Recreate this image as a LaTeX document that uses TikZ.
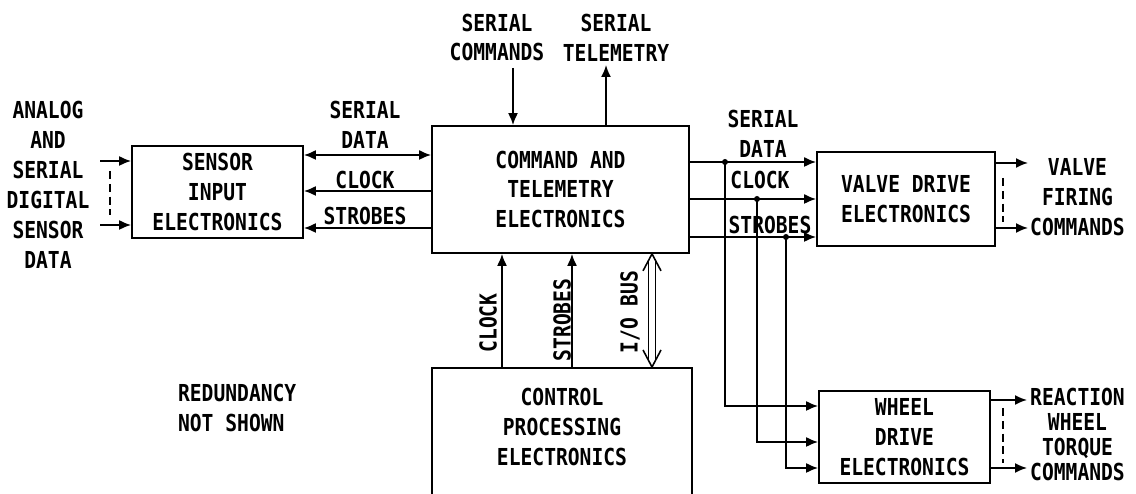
\documentclass[tikz,border=0pt]{standalone}
\usepackage{fontspec}
\setmonofont{DejaVu Sans Mono}[FakeStretch=0.84]
\usetikzlibrary{arrows.meta,positioning,calc}
\newcommand{\lettering}{\ttfamily\bfseries\fontsize{13.3pt}{17pt}\selectfont}
\newcommand{\tightlettering}{\ttfamily\bfseries\fontsize{13.3pt}{14.2pt}\selectfont}

\begin{document}
\begin{tikzpicture}[
    box/.style={draw,line width=1pt,align=center,font=\lettering,inner sep=0pt},
    lbl/.style={align=center,font=\lettering,inner sep=1pt},
    sig/.style={-{Latex[length=2.4mm,width=2mm]},line width=1pt},
    dsig/.style={{Latex[length=2.4mm,width=2mm]}-{Latex[length=2.4mm,width=2mm]},line width=1pt},
    bus/.style={line width=0.9pt,line join=miter},
    redund/.style={line width=0.9pt,dash pattern=on 4.5pt off 2.8pt}
  ]
  \useasboundingbox (0,0) rectangle (22.72,9.88);
  \clip (0,0) rectangle (22.72,9.88);

  \node[box,minimum width=3.42cm,minimum height=1.84cm] (sie) at (4.35,6.04)
    {SENSOR\\INPUT\\ELECTRONICS};
  \node[box,minimum width=5.14cm,minimum height=2.54cm] (cte) at (11.21,6.09)
    {COMMAND AND\\TELEMETRY\\ELECTRONICS};
  \node[box,minimum width=3.56cm,minimum height=1.88cm] (vde) at (18.12,5.90)
    {VALVE DRIVE\\ELECTRONICS};
  \node[box,minimum width=3.42cm,minimum height=1.84cm] (wde) at (18.09,1.14)
    {WHEEL\\DRIVE\\ELECTRONICS};
  \node[box,anchor=north,minimum width=5.2cm,minimum height=3.2cm] (cpe) at (11.24,2.54) {};
  \node[lbl] (cpt) at (11.24,1.34) {CONTROL\\PROCESSING\\ELECTRONICS};

  \node[lbl] (sdat) at (0.96,6.18) {ANALOG\\AND\\SERIAL\\DIGITAL\\SENSOR\\DATA};
  \coordinate (in1) at (2.0,6.66);
  \coordinate (in2) at (2.0,5.38);
  \draw[sig] (in1) -- (sie.west |- in1);
  \draw[sig] (in2) -- (sie.west |- in2);
  \draw[redund] ([xshift=2mm,yshift=-2mm]in1) -- ([xshift=2mm,yshift=2mm]in2);

  \coordinate (lsd) at (0,6.78);
  \coordinate (lck) at (0,6.06);
  \coordinate (lst) at (0,5.32);
  \draw[dsig] (sie.east |- lsd) -- (cte.west |- lsd);
  \draw[sig] (cte.west |- lck) -- (sie.east |- lck);
  \draw[sig] (cte.west |- lst) -- (sie.east |- lst);
  \node[lbl] (lsdl) at (7.3,7.38) {SERIAL\\DATA};
  \node[lbl] (lckl) at (7.3,6.28) {CLOCK};
  \node[lbl] (lstl) at (7.3,5.56) {STROBES};

  \coordinate (cmdin) at (10.26,8.52);
  \coordinate (telout) at (12.12,8.58);
  \draw[sig] (cmdin) -- (cte.north -| cmdin);
  \draw[sig] (cte.north -| telout) -- (telout);
  \node[lbl] (cmdl) at (9.94,9.13) {SERIAL\\COMMANDS};
  \node[lbl] (tell) at (12.32,9.13) {SERIAL\\TELEMETRY};

  \coordinate (rsd) at (14.5,6.64);
  \coordinate (rck) at (15.14,5.90);
  \coordinate (rst) at (15.72,5.14);
  \coordinate (wsd) at (0,1.76);
  \coordinate (wck) at (0,1.04);
  \coordinate (wst) at (0,0.52);
  \foreach \s/\w in {rsd/wsd,rck/wck,rst/wst} {
    \draw[sig] (cte.east |- \s) -- (vde.west |- \s);
    \draw[sig] (\s) |- (wde.west |- \w);
    \fill (\s) circle (0.06);
  }
  \node[lbl] (rsdl) at (15.26,7.21) {SERIAL\\DATA};
  \node[lbl] (rckl) at (15.2,6.28) {CLOCK};
  \node[lbl] (rstl) at (15.4,5.38) {STROBES};

  \coordinate (vo1) at (20.56,6.62);
  \coordinate (vo2) at (20.56,5.32);
  \draw[sig] (vde.east |- vo1) -- (vo1);
  \draw[sig] (vde.east |- vo2) -- (vo2);
  \draw[redund] (20.06,6.32) -- (20.06,5.44);
  \node[lbl] (vfc) at (21.55,5.94) {VALVE\\FIRING\\COMMANDS};

  \coordinate (wo1) at (20.54,1.88);
  \coordinate (wo2) at (20.54,0.52);
  \draw[sig] (wde.east |- wo1) -- (wo1);
  \draw[sig] (wde.east |- wo2) -- (wo2);
  \draw[redund] (20.06,1.72) -- (20.06,0.62);
  \node[lbl,font=\tightlettering] (rwtc) at (21.55,1.19)
    {REACTION\\WHEEL\\TORQUE\\COMMANDS};

  \coordinate (bck) at (10.04,0);
  \coordinate (bst) at (11.44,0);
  \coordinate (bio) at (13.04,0);
  \draw[sig] (cpe.north -| bck) -- (cte.south -| bck);
  \draw[sig] (cpe.north -| bst) -- (cte.south -| bst);
  \coordinate (iob) at (cpe.north -| bio);
  \coordinate (iot) at (cte.south -| bio);
  \draw[bus] ([shift={(-0.07,0.13)}]iob) -- ([shift={(-0.07,-0.13)}]iot);
  \draw[bus] ([shift={(0.07,0.13)}]iob) -- ([shift={(0.07,-0.13)}]iot);
  \draw[bus] ([shift={(-0.18,0.34)}]iob) -- (iob) -- ([shift={(0.18,0.34)}]iob);
  \draw[bus] ([shift={(-0.18,-0.34)}]iot) -- (iot) -- ([shift={(0.18,-0.34)}]iot);
  \node[lbl,rotate=90] (bckl) at (9.76,3.42) {CLOCK};
  \node[lbl,rotate=90] (bstl) at (11.24,3.48) {STROBES};
  \node[lbl,rotate=90] (biol) at (12.6,3.64) {I/O BUS};

  \node[lbl,align=left,anchor=west] (rns) at (3.52,1.72) {REDUNDANCY\\NOT SHOWN};
\end{tikzpicture}
\end{document}
